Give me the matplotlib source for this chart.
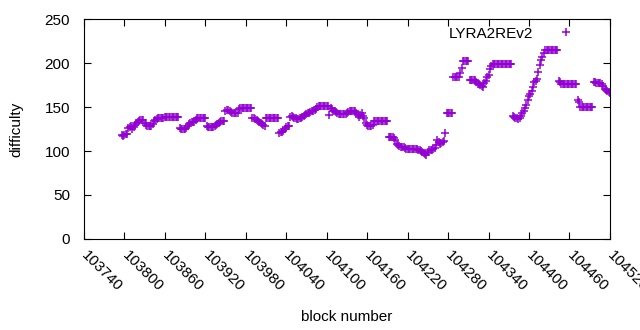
import numpy as np
import matplotlib.pyplot as plt

plt.rcParams['font.family'] = ['Liberation Sans', 'DejaVu Sans']

# block numbers (every 2nd block) and difficulty
blocks = np.arange(103796, 104521, 2)
difficulty = [
    118, 117, 118, 119, 119, 126, 127, 128, 125, 127,
    130, 132, 133, 134, 135, 135, 135, 132, 130, 129,
    129, 129, 128, 131, 134, 135, 136, 137, 138, 138,
    137, 138, 139, 139, 139, 139, 139, 139, 139, 139,
    139, 139, 139, 126, 125, 125, 125, 125, 126, 129,
    131, 132, 133, 133, 133, 135, 137, 137, 137, 137,
    137, 137, 137, 128, 127, 127, 127, 127, 127, 128,
    130, 131, 132, 133, 134, 134, 134, 146, 147, 147,
    146, 144, 143, 143, 143, 143, 143, 148, 149, 149,
    149, 149, 149, 149, 149, 149, 149, 138, 137, 136,
    135, 134, 133, 132, 131, 130, 128, 137, 138, 138,
    138, 138, 138, 138, 138, 138, 138, 121, 122, 122,
    123, 125, 127, 128, 129, 139, 140, 139, 138, 137,
    136, 136, 137, 138, 139, 140, 141, 142, 143, 143,
    144, 145, 146, 147, 148, 150, 151, 151, 151, 151,
    151, 151, 151, 151, 141, 149, 148, 146, 145, 144,
    143, 142, 142, 142, 142, 142, 142, 143, 144, 145,
    146, 146, 146, 145, 143, 141, 139, 141, 143, 140,
    138, 132, 130, 129, 129, 129, 130, 134, 134, 134,
    134, 134, 134, 134, 134, 134, 134, 134, 116, 116,
    116, 116, 115, 112, 108, 107, 106, 105, 104, 104,
    103, 102, 102, 102, 102, 102, 102, 102, 102, 102,
    101, 101, 100, 99, 98, 97, 96, 99, 101, 101,
    101, 102, 103, 107, 112, 110, 108, 109, 110, 111,
    121, 143, 143, 143, 143, 143, 184, 184, 184, 184,
    184, 189, 194, 202, 202, 202, 202, 202, 181, 181,
    181, 181, 181, 178, 176, 176, 175, 174, 173, 177,
    180, 184, 187, 193, 197, 199, 199, 199, 199, 199,
    199, 199, 199, 199, 199, 199, 199, 199, 199, 199,
    140, 139, 138, 137, 136, 138, 140, 143, 146, 149,
    152, 158, 163, 165, 168, 173, 178, 180, 182, 190,
    198, 204, 207, 212, 215, 215, 215, 215, 215, 215,
    215, 215, 215, 215, 180, 178, 176, 176, 176, 176,
    176, 176, 176, 176, 176, 176, 176, 176, 158, 156,
    150, 150, 150, 150, 150, 150, 150, 150, 150, 150,
    179, 178, 177, 177, 177, 177, 176, 174, 170, 169,
    168, 167, 166,
]
xticks = np.arange(103740, 104521, 60)

fig = plt.figure(figsize=(6.4, 3.3), dpi=100)
ax = fig.add_axes([0.131, 0.276, 0.822, 0.666])

ax.plot(blocks, difficulty, '+', color='#9400d3', ms=5.5, mew=1.1,
        label='LYRA2REv2')

ax.set_xlim(103740, 104520)
ax.set_ylim(0, 250)
ax.set_xticks(xticks)
ax.set_xticklabels([str(t) for t in xticks], rotation=-45, ha='left',
                   va='center', rotation_mode='anchor')
ax.set_yticks(np.arange(0, 251, 50))
ax.tick_params(direction='in', top=True, right=True, length=5, labelsize=11)
ax.tick_params(axis='y', pad=10)
ax.tick_params(axis='x', pad=10)
ax.set_xlabel('block number', fontsize=11, labelpad=12)
ax.set_ylabel('difficulty', fontsize=11, labelpad=15)

ax.legend(loc='upper right', frameon=False, markerfirst=False, fontsize=11,
          numpoints=1, handlelength=2.8, handletextpad=0.8, borderpad=0,
          borderaxespad=0, bbox_to_anchor=(0.958, 0.965))

fig.savefig('out.png', dpi=100)
